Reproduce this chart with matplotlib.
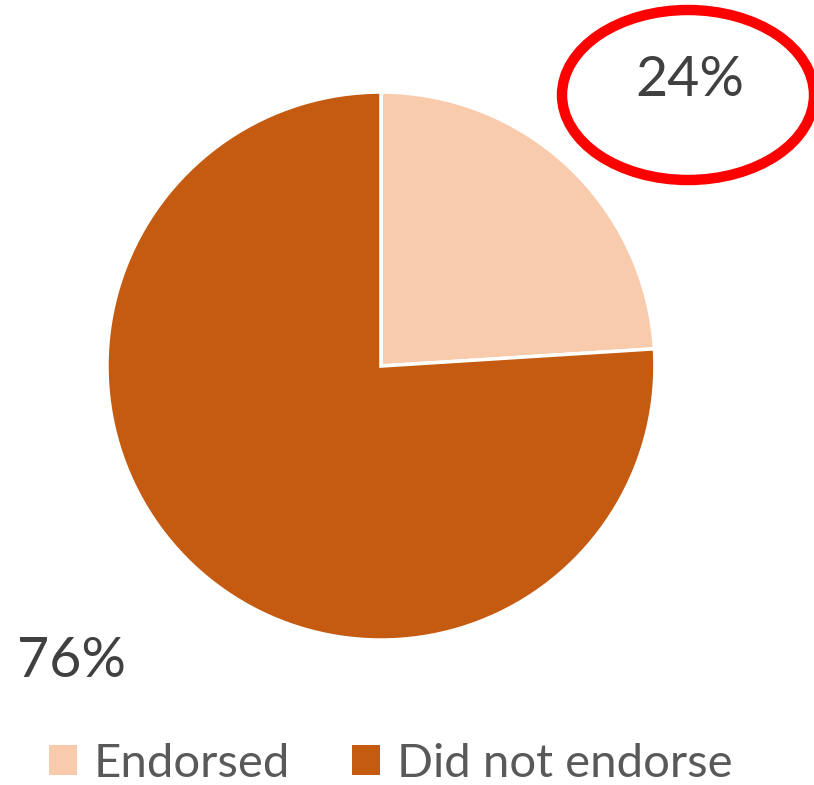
import matplotlib
matplotlib.use("Agg")
import matplotlib.pyplot as plt
from matplotlib.patches import Ellipse, Patch

labels = ["Endorsed", "Did not endorse"]
values = [24, 76]
colors = ["#F8CBAD", "#C55A11"]

plt.rcParams['font.family'] = ['Lato', 'DejaVu Sans']

fig = plt.figure(figsize=(8.14, 7.85), dpi=100)
ax = fig.add_axes([0.1314, 0.1847, 0.6732, 0.698])

wedges, _ = ax.pie(values, colors=colors, startangle=90, counterclock=False,
                   radius=1, wedgeprops=dict(edgecolor="white", linewidth=2.5))
ax.set_xlim(-1, 1)
ax.set_ylim(-1, 1)
ax.set_aspect("equal")
ax.axis("off")

# percentage labels
ax.text(1.128, 1.044, f"{values[0]}%", fontsize=40, color="#404040",
        ha="center", va="center", clip_on=False)
ax.text(-1.128, -1.08, f"{values[1]}%", fontsize=40, color="#404040",
        ha="center", va="center", clip_on=False)

# red ring around the endorsed share
ring = Ellipse((688 / 814, 1 - 95 / 785), 252 / 814, 170 / 785,
               transform=fig.transFigure, fill=False, edgecolor="#FF0000",
               linewidth=7.5)
fig.add_artist(ring)

handles = [Patch(facecolor=c, edgecolor="none") for c in colors]
fig.legend(handles, labels, loc="center", bbox_to_anchor=(0.48, 1 - 764 / 785),
           ncol=2, frameon=False, fontsize=34, labelcolor="#595959",
           handlelength=0.6, handleheight=0.6, handletextpad=0.35,
           columnspacing=1.3, borderpad=0)

fig.savefig("out.png", dpi=100)
